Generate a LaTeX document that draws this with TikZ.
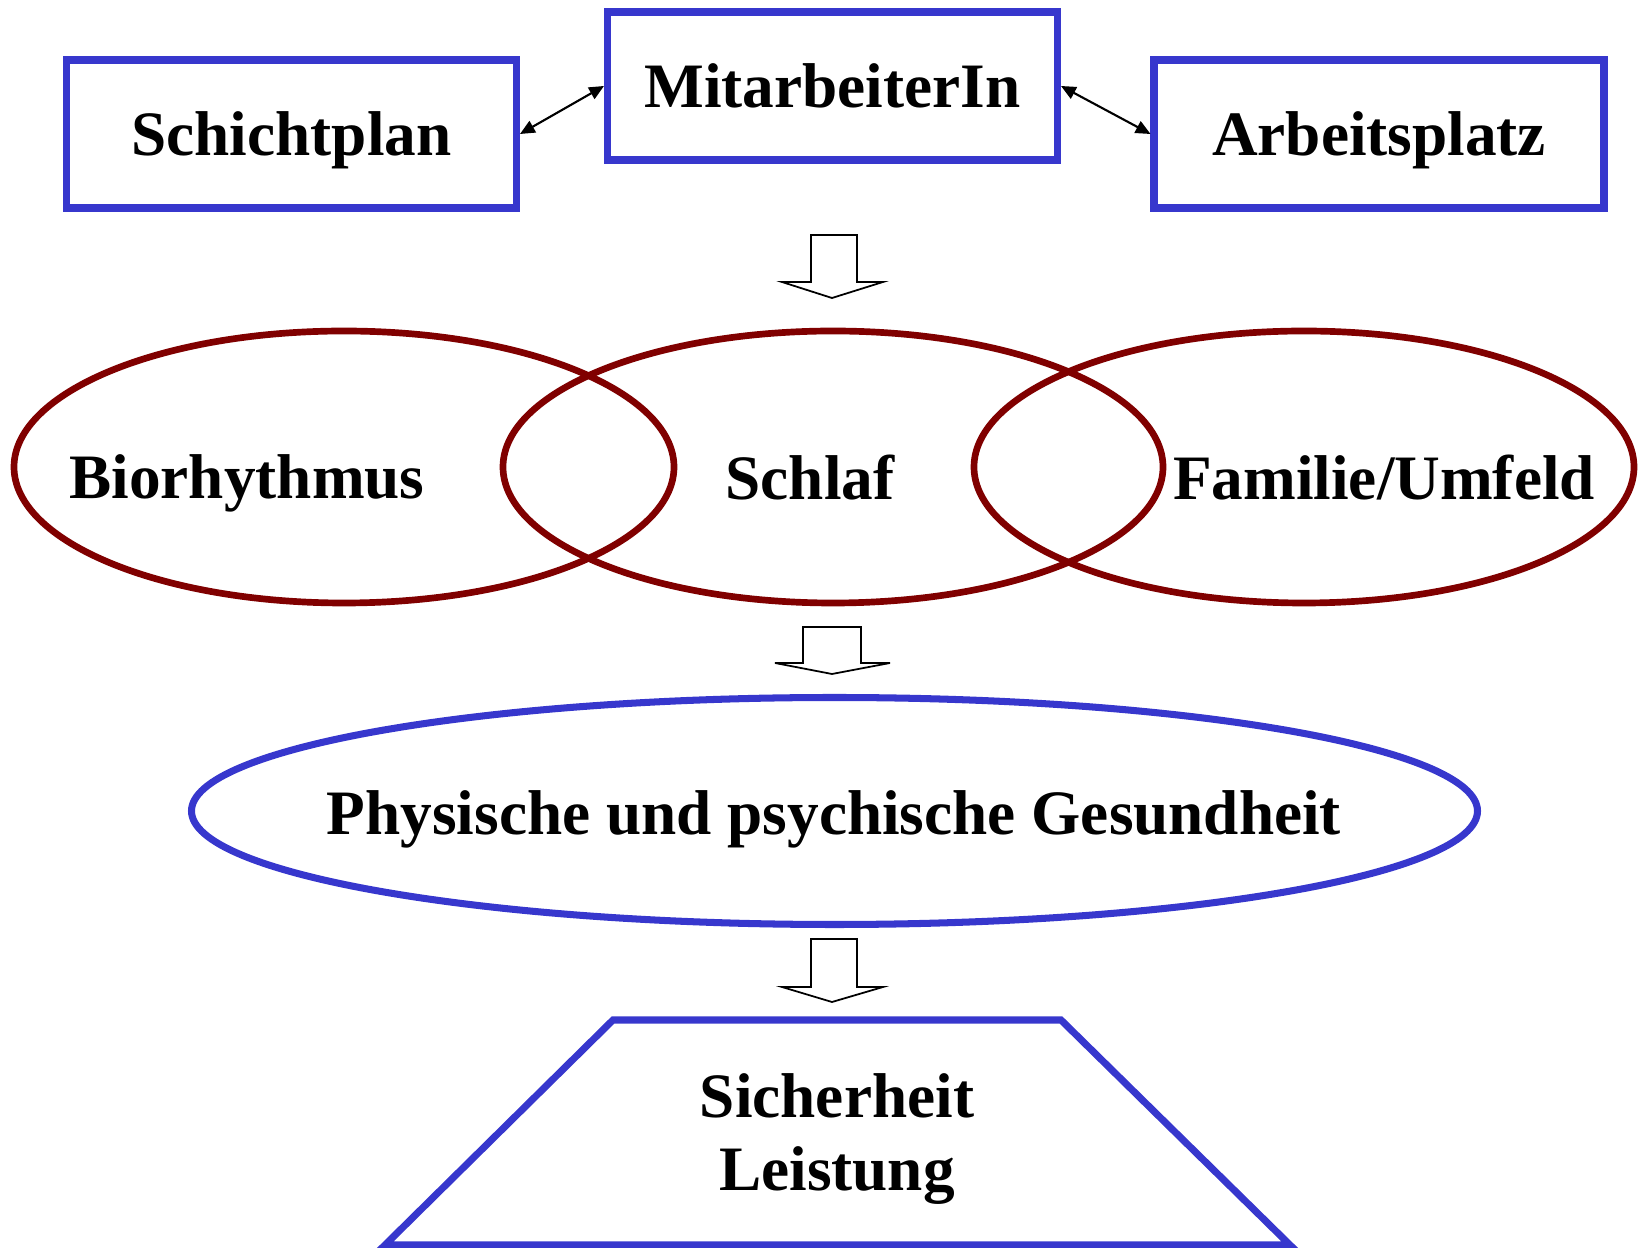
\documentclass[tikz,border=0pt]{standalone}
\usepackage{fontspec}
\setmainfont{Liberation Serif}
\usetikzlibrary{arrows.meta,shapes.geometric}

\definecolor{boxblue}{RGB}{55,55,205}
\definecolor{ovalred}{RGB}{128,0,0}

\begin{document}
\begin{tikzpicture}[
      font=\fontsize{18}{20.7}\selectfont\bfseries,
      Box/.style={draw=boxblue, line width=2pt, minimum width=4.50cm, minimum height=1.48cm, inner sep=0pt, text depth=0pt},
      Oval/.style={draw=ovalred, line width=1.9pt, ellipse, minimum width=6.60cm, minimum height=2.72cm, inner sep=0pt},
      Label/.style={inner sep=0pt, text depth=0pt, align=center},
      Link/.style={{Triangle[length=4.2pt,width=3.7pt]}-{Triangle[length=4.2pt,width=3.7pt]}, line width=0.6pt},
      BlockArrow/.style={draw, line width=0.5pt, line join=miter},
      ]
      \useasboundingbox (0,0) rectangle (16.39,-12.48);

      \node[Box] (schicht) at (2.915, -1.34) {Schichtplan};
      \node[Box] (mitarb) at (8.325, -0.86) {MitarbeiterIn};
      \node[Box] (arbeit) at (13.79, -1.34) {Arbeitsplatz};

      \draw[Link] (schicht.east) -- (mitarb.west);
      \draw[Link] (mitarb.east) -- (arbeit.west);

      \draw[BlockArrow] (8.11,-2.35) -- (8.57,-2.35) -- (8.57,-2.82) -- (8.83,-2.82)
        -- (8.32,-2.98) -- (7.82,-2.82) -- (8.11,-2.82) -- cycle;

      \node[Oval] (bio) at (3.44, -4.67) {};
      \node[Oval] (schlaf) at (8.33, -4.67) {};
      \node[Oval] (familie) at (13.04, -4.67) {};
      \node[Label] (biotext) at (2.47, -4.77) {Biorhythmus};
      \node[Label] (schlaftext) at (8.10, -4.77) {Schlaf};
      \node[Label] (familietext) at (13.84, -4.77) {Familie/Umfeld};

      \draw[BlockArrow] (8.03,-6.27) -- (8.61,-6.27) -- (8.61,-6.63) -- (8.90,-6.63)
        -- (8.32,-6.74) -- (7.75,-6.63) -- (8.03,-6.63) -- cycle;

      \node[draw=boxblue, line width=2pt, ellipse, minimum width=12.86cm, minimum height=2.27cm, inner sep=0pt]
        (gesund) at (8.345, -8.11) {};
      \node[Label] (gesundtext) at (8.34, -8.13) {Physische und psychische Gesundheit};

      \draw[BlockArrow] (8.11,-9.39) -- (8.57,-9.39) -- (8.57,-9.87) -- (8.83,-9.87)
        -- (8.32,-10.02) -- (7.82,-9.87) -- (8.11,-9.87) -- cycle;

      % trapezoid at the bottom
      \draw[boxblue, line width=2pt, line join=miter] (6.13,-10.20) -- (10.61,-10.20)
        -- (12.90,-12.45) -- (3.85,-12.45) -- cycle;
      \node[Label] (sicher) at (8.37, -11.32) {Sicherheit\\Leistung};
    \end{tikzpicture}
\end{document}
